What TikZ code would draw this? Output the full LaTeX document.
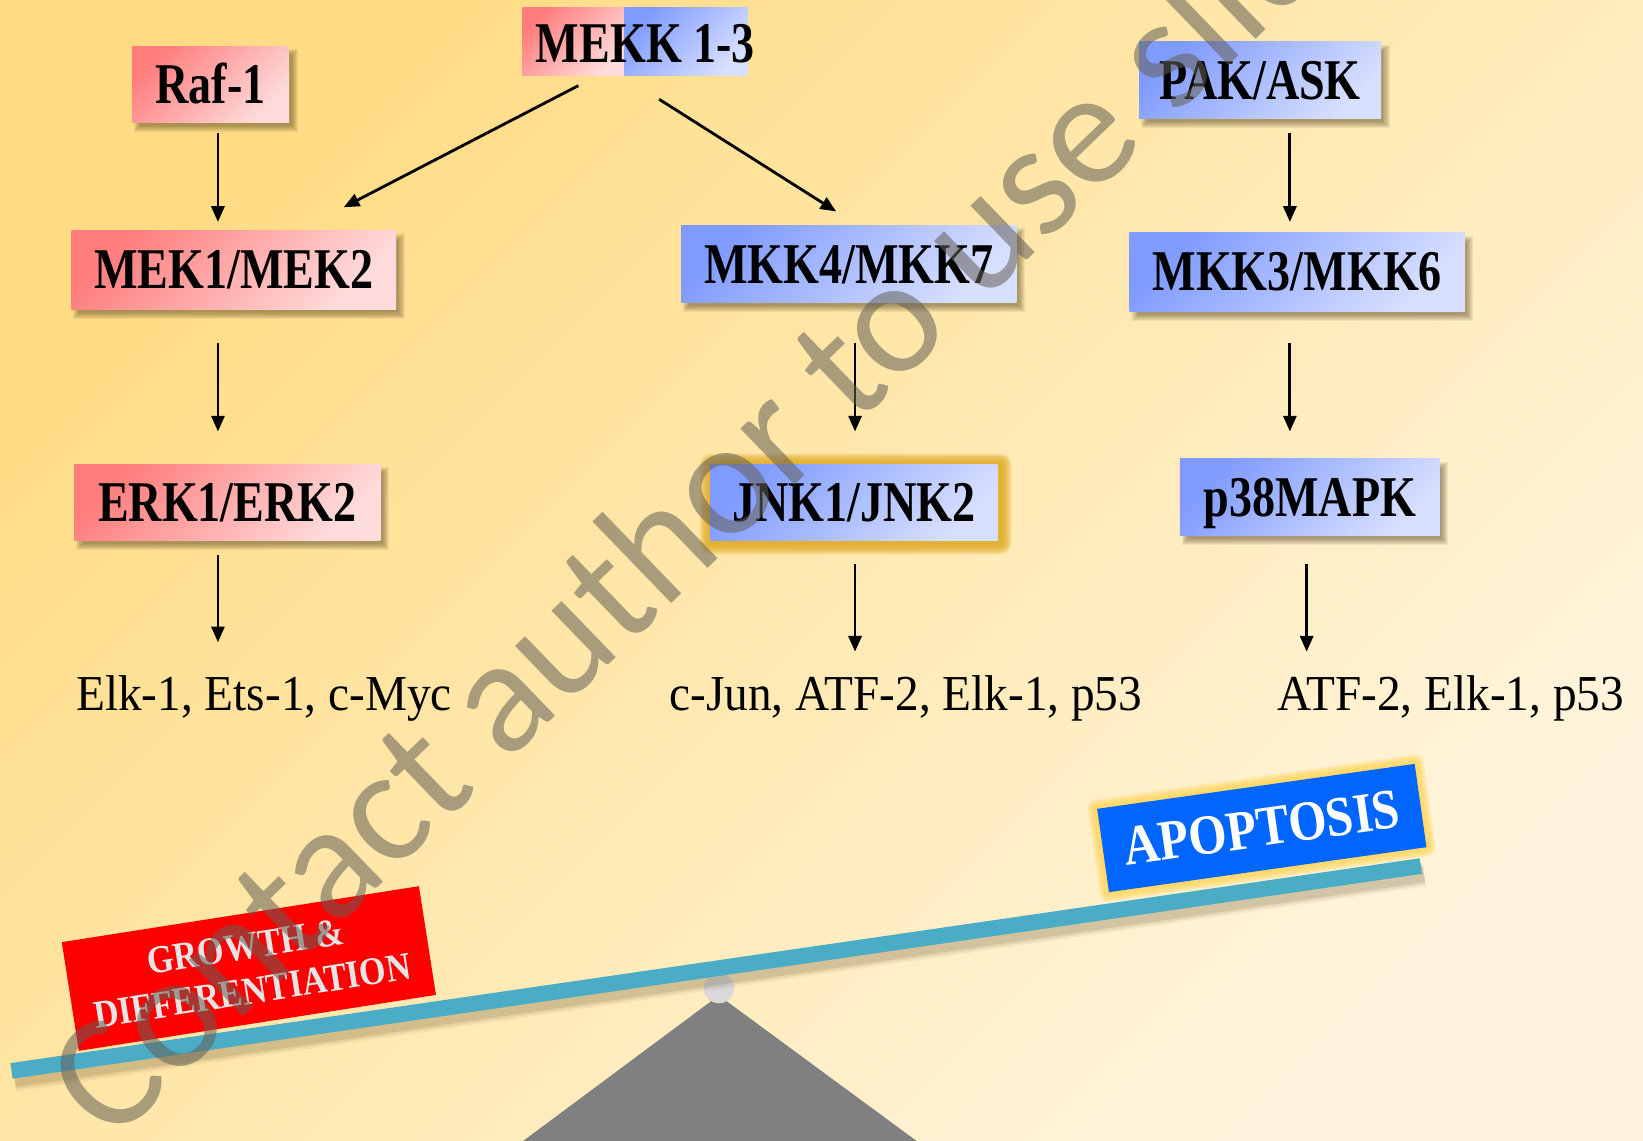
\documentclass[tikz,border=0pt]{standalone}
\usepackage{fontspec}
\newfontfamily\boxfont[FakeStretch=0.8]{Liberation Serif}
\newfontfamily\tagfont[FakeStretch=0.87]{Liberation Serif}
\newfontfamily\txtfont[FakeStretch=0.94]{Liberation Serif}
\newfontfamily\wmfont{Carlito}
\usetikzlibrary{arrows.meta,calc}
\pgfdeclarelayer{back}
\pgfdeclarelayer{bg}
\pgfsetlayers{back,bg,main}

\definecolor{bgA}{RGB}{255,220,132}
\definecolor{bgB}{RGB}{255,245,222}
\definecolor{pinkA}{RGB}{255,125,125}
\definecolor{pinkB}{RGB}{255,220,220}
\definecolor{blueA}{RGB}{128,155,255}
\definecolor{blueB}{RGB}{216,224,255}
\definecolor{beamcol}{RGB}{75,172,198}
\definecolor{glowJ}{RGB}{226,174,42}
\definecolor{glowA}{RGB}{255,214,90}
\definecolor{apocol}{RGB}{0,102,255}
\definecolor{shadowcol}{RGB}{70,55,20}
\definecolor{wmcol}{RGB}{100,96,86}

% soft drop shadow under a named box (drawn on the bg layer)
\newcommand\softshadow[1]{%
  \foreach \i in {-3,...,3}
    \fill[shadowcol, opacity=0.08]
      ($(#1.north west)+(5-\i,6-\i)$) rectangle ($(#1.south east)+(5+\i,6+\i)$);}

\begin{document}
\begin{tikzpicture}[x=1pt,y=-1pt,
  kbox/.style={draw=none, inner sep=0pt, minimum height=73pt,
    text height=36.4pt, text depth=0pt,
    font=\boxfont\bfseries\fontsize{55}{60}\selectfont, text=black},
  pinkbox/.style={kbox, shade, top color=pinkA, bottom color=pinkB, shading angle=45},
  bluebox/.style={kbox, shade, top color=blueA, bottom color=blueB, shading angle=45},
  txt/.style={inner sep=0pt, text height=31.8pt, text depth=0pt,
    font=\txtfont\fontsize{48}{52}\selectfont},
  arr/.style={line width=2.7pt, -{Triangle[length=15pt,width=12.5pt]}},
  tag/.style={inner sep=0pt, align=center, text=white,
    font=\tagfont\bfseries\fontsize{37.5}{43}\selectfont}
]
\useasboundingbox (0,0) rectangle (1568,1088);
\begin{pgfonlayer}{back}
  \shade[top color=bgA, bottom color=bgB, shading angle=45] (0,0) rectangle (1568,1088);
\end{pgfonlayer}

% kinase boxes
\node[pinkbox, minimum width=150pt] (raf) at (201,80.5) {Raf-1};
\node[kbox, minimum width=234pt, minimum height=64pt] (mekk) at (616,41) {MEKK 1-3};
\node[bluebox, minimum width=231pt] (pak) at (1202.5,76.5) {PAK/ASK};
\node[pinkbox, minimum width=310pt, minimum height=75pt] (mek) at (223,257.5) {MEK1/MEK2};
\node[bluebox, minimum width=320pt, minimum height=74pt] (mkk47) at (810,252) {MKK4/MKK7};
\node[bluebox, minimum width=320pt, minimum height=75pt] (mkk36) at (1238,259.5) {MKK3/MKK6};
\node[pinkbox, minimum width=292pt] (erk) at (217,479.5) {ERK1/ERK2};
\node[bluebox, minimum width=274pt] (jnk) at (815,479.5) {JNK1/JNK2};
\node[bluebox, minimum width=248pt] (p38) at (1250,474.5) {p38MAPK};

\begin{pgfonlayer}{bg}
  \softshadow{raf}\softshadow{pak}\softshadow{mek}\softshadow{mkk47}
  \softshadow{mkk36}\softshadow{erk}\softshadow{p38}
  % two-tone fill of the MEKK box
  \shade[top color=pinkA, bottom color=pinkB, shading angle=45]
    ($(mekk.north west)+(0,-1.5)$) rectangle ($(mekk.south west)+(97,-1.5)$);
  \shade[top color=blueA, bottom color=blueB, shading angle=45]
    ($(mekk.north west)+(97,-1.5)$) rectangle ($(mekk.south west)+(215,-1.5)$);
  % glow around JNK1/JNK2
  \foreach \i in {1,...,11}
    \fill[glowJ, opacity=0.2, rounded corners=\i pt]
      ($(jnk.north west)+(-\i+1,-\i+1)$) rectangle ($(jnk.south east)+(\i+2,\i+2)$);
\end{pgfonlayer}

% substrates
\node[txt] (t1) at (252,662) {Elk-1, Ets-1, c-Myc};
\node[txt] (t2) at (864.5,662) {c-Jun, ATF-2, Elk-1, p53};
\node[txt] (t3) at (1384.5,662) {ATF-2, Elk-1, p53};

% cascade arrows
\draw[arr] ($(raf.south)+(7,10)$) -- ($(raf.south |- mek.north)+(7,-8)$);
\draw[arr] ($(mekk.south)+(-64,8.5)$) -- ($(mek.north)+(105,-22)$);
\draw[arr] ($(mekk.south)+(13,21.5)$) -- ($(mkk47.north)+(-12,-13)$);
\draw[arr] ($(pak.south)+(28.5,14)$) -- ($(pak.south |- mkk36.north)+(28.5,-10)$);
\draw[arr] ($(mek.south)+(-15,32)$) -- ($(erk.north)+(-9,-31)$);
\draw[arr] ($(mkk47.south)+(6,38)$) -- ($(jnk.north)+(1,-31)$);
\draw[arr] ($(mkk36.south)+(-7,30)$) -- ($(p38.north)+(-19,-26)$);
\draw[arr] ($(erk.south)+(-9,13)$) -- ($(t1.north)+(-44,-33)$);
\draw[arr] ($(jnk.south)+(1,22)$) -- ($(t2.north)+(-48.5,-24)$);
\draw[arr] ($(p38.south)+(-3,27)$) -- ($(t3.north)+(-137.5,-24)$);

% balance: fulcrum, pivot and beam
\fill[black!50] (686,950) -- (879,1092) -- (495,1092) -- cycle;
\fill[black!15] (686,943) circle (14.5pt);
\coordinate (bl) at (11,1022);
\coordinate (br) at (1356,826.5);
\foreach \w/\o in {23/0.06,19/0.08,15/0.12}
  \draw[line width=\w pt, shadowcol, opacity=\o] ($(bl)+(3,8)$) -- ($(br)+(3,8)$);
\draw[line width=15pt, beamcol] (bl) -- (br);

% outcome labels on the beam
\node[tag, fill=red, rotate=8.9, minimum width=345pt, minimum height=105pt,
  text=white!90!black] (grow) at (237.5,924.3) {GROWTH \&\\DIFFERENTIATION};
\begin{scope}[shift={(1204.2,790.2)}, rotate=8.06]
  \foreach \i in {1,...,9}
    \fill[glowA, opacity=0.2, rounded corners=\i pt] (-153-\i,-40.2-\i) rectangle (153+\i,40.2+\i);
\end{scope}
\node[tag, fill=apocol, rotate=8.06, minimum width=306pt, minimum height=80.3pt,
  font=\tagfont\bfseries\fontsize{54}{60}\selectfont] (apo) at (1204.2,790.2) {APOPTOSIS};

% watermark
\node[wmcol, text opacity=0.55, rotate=44, anchor=base west, inner sep=0pt,
  font=\wmfont\fontsize{156}{156}\selectfont] (wm) at (106,1093) {Contact author to use slide};
\end{tikzpicture}
\end{document}
